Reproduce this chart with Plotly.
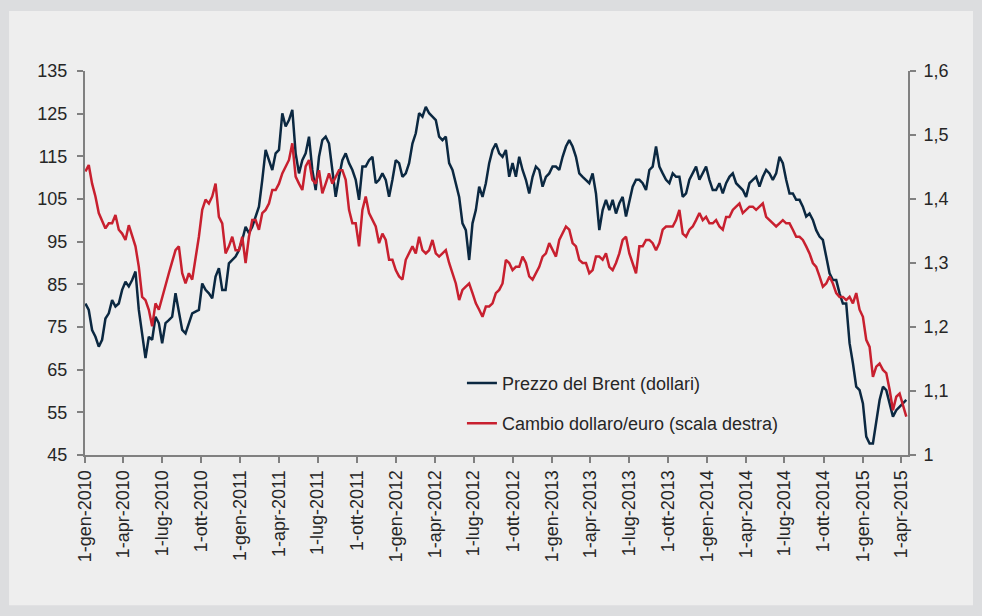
import pandas as pd
import plotly.graph_objects as go

# Brent price (USD) and USD/EUR exchange rate, sampled roughly every 8 days
brent = [
    80.5, 79.0, 74.3, 72.7, 70.4, 72.0, 77.0, 78.2, 81.3, 79.8,
    80.5, 83.7, 85.6, 84.5, 86.0, 88.0, 79.0, 73.5, 67.7, 72.7,
    72.0, 77.4, 75.9, 71.2, 75.9, 76.6, 77.4, 82.9, 79.0, 74.3,
    73.5, 75.9, 78.2, 78.6, 79.0, 85.2, 83.7, 82.9, 81.7, 86.8,
    88.8, 83.7,
    83.7, 89.9, 90.7, 91.5, 93.0, 95.4, 98.5, 97.0, 98.5, 100.9,
    103.2, 109.5, 116.5, 114.1, 111.8, 115.7, 116.5, 125.1, 122.0, 123.5,
    125.9, 115.7, 111.0, 114.1, 115.7, 119.6, 111.8, 107.1, 114.9, 118.8,
    119.6, 118.0, 111.8, 105.5, 110.2, 114.1, 115.7, 113.4, 111.8, 109.5,
    104.8,
    112.6, 112.6, 114.1, 114.9, 108.7, 109.5, 111.0, 109.5, 105.5, 109.5,
    114.1, 113.4, 110.2, 111.0, 113.4, 118.0, 120.4, 125.1, 124.3, 126.6,
    125.1, 124.3, 123.5, 119.6, 118.8, 119.6, 113.4, 111.8, 108.7, 105.5,
    99.3, 97.7, 90.7, 99.3, 102.4, 107.9, 105.5, 108.7, 113.4, 116.5,
    118.0,
    115.7, 114.9, 116.5, 110.2, 113.4, 110.2, 114.9, 111.8, 109.5, 106.3,
    110.2, 112.6, 111.8, 107.9, 110.2, 111.0, 112.6, 112.6, 111.8, 114.9,
    117.3, 118.8, 117.3, 114.9, 111.0, 110.2, 109.5, 108.7, 111.0, 106.3,
    97.7, 102.4, 104.8, 102.4, 104.8, 101.6, 104.0, 105.5, 100.9, 104.8,
    107.9, 109.5,
    109.5, 108.7, 107.1, 111.8, 112.6, 117.3, 112.6, 111.0, 109.5, 108.7,
    111.0, 110.2, 110.2, 105.5, 106.3, 109.5, 111.0, 112.6, 109.5, 111.0,
    112.6, 109.5, 107.1, 107.1, 108.7, 106.3, 108.7, 110.2, 111.0, 108.7,
    107.9, 107.1, 105.5, 108.7, 109.5, 110.2, 107.9, 110.2, 111.8, 111.0,
    109.5,
    111.0, 114.9, 113.4, 109.5, 106.3, 106.3, 104.8, 104.8, 103.2, 100.9,
    101.6, 100.1, 97.7, 96.2, 95.4, 91.5, 87.6, 86.0, 86.0, 82.9,
    80.5, 80.5, 71.2, 66.5, 61.0, 60.2, 57.1, 49.3, 47.7, 47.7,
    52.4, 57.9, 61.0, 60.2, 57.1, 54.0, 55.5, 56.3, 57.1, 57.9,
]

cambio = [
    1.443, 1.453, 1.424, 1.404, 1.378, 1.367, 1.354, 1.362, 1.362, 1.375,
    1.352, 1.346, 1.336, 1.359, 1.341, 1.326, 1.294, 1.247, 1.242, 1.227,
    1.201, 1.237, 1.227, 1.247, 1.268, 1.284, 1.302, 1.320, 1.326, 1.284,
    1.268, 1.284, 1.274, 1.305, 1.341, 1.383, 1.399, 1.393, 1.404, 1.424,
    1.372, 1.362,
    1.315, 1.326, 1.341, 1.320, 1.320, 1.341, 1.300, 1.341, 1.367, 1.367,
    1.352, 1.378, 1.383, 1.393, 1.414, 1.414, 1.424, 1.440, 1.451, 1.461,
    1.487, 1.435, 1.424, 1.414, 1.451, 1.461, 1.430, 1.424, 1.445, 1.409,
    1.424, 1.440, 1.424, 1.435, 1.445, 1.445, 1.430, 1.383, 1.362, 1.362,
    1.326,
    1.383, 1.404, 1.378, 1.367, 1.357, 1.331, 1.346, 1.336, 1.305, 1.305,
    1.289, 1.279, 1.274, 1.305, 1.315, 1.326, 1.315, 1.341, 1.320, 1.315,
    1.320, 1.336, 1.315, 1.310, 1.315, 1.320, 1.300, 1.284, 1.268, 1.242,
    1.258, 1.263, 1.268, 1.253, 1.237, 1.227, 1.216, 1.232, 1.232, 1.237,
    1.253,
    1.258, 1.268, 1.305, 1.300, 1.289, 1.294, 1.294, 1.310, 1.300, 1.279,
    1.274, 1.284, 1.294, 1.310, 1.315, 1.331, 1.320, 1.310, 1.336, 1.346,
    1.357, 1.352, 1.331, 1.326, 1.305, 1.300, 1.300, 1.284, 1.289, 1.310,
    1.310, 1.305, 1.315, 1.294, 1.289, 1.300, 1.315, 1.336, 1.341, 1.315,
    1.300, 1.284,
    1.326, 1.326, 1.336, 1.336, 1.331, 1.320, 1.331, 1.352, 1.357, 1.357,
    1.357, 1.367, 1.383, 1.346, 1.341, 1.352, 1.357, 1.367, 1.378, 1.367,
    1.372, 1.362, 1.362, 1.367, 1.357, 1.352, 1.372, 1.372, 1.383, 1.388,
    1.393, 1.378, 1.383, 1.388, 1.388, 1.383, 1.388, 1.393, 1.372, 1.367,
    1.362,
    1.357, 1.362, 1.367, 1.362, 1.362, 1.352, 1.341, 1.341, 1.336, 1.326,
    1.315, 1.300, 1.294, 1.279, 1.263, 1.268, 1.279, 1.268, 1.253, 1.247,
    1.247, 1.242, 1.247, 1.237, 1.253, 1.227, 1.216, 1.180, 1.169, 1.122,
    1.138, 1.143, 1.133, 1.128, 1.102, 1.070, 1.091, 1.096, 1.076, 1.060,
]

dates_brent = pd.date_range("2010-01-02", "2015-04-13", periods=len(brent))
dates_cambio = pd.date_range("2010-01-02", "2015-04-13", periods=len(cambio))

mesi = {1: "gen", 4: "apr", 7: "lug", 10: "ott"}
tick_dates = pd.date_range("2010-01-01", "2015-04-01", freq="QS")
tick_text = [f"1-{mesi[d.month]}-{d.year}" for d in tick_dates]

left_ticks = [45, 55, 65, 75, 85, 95, 105, 115, 125, 135]
right_ticks = [1.0, 1.1, 1.2, 1.3, 1.4, 1.5, 1.6]
right_text = ["1", "1,1", "1,2", "1,3", "1,4", "1,5", "1,6"]

font = "Liberation Sans, Arial, sans-serif"
axis_col = "#808080"
panel = "#eeeeee"
outer = "#dcdddf"

fig = go.Figure()
fig.add_trace(go.Scatter(
    x=dates_brent, y=brent, mode="lines", name="Prezzo del Brent (dollari)",
    line=dict(color="#0b2841", width=2.5), legendgroup="a",
))
fig.add_trace(go.Scatter(
    x=dates_cambio, y=cambio, mode="lines", name="Cambio dollaro/euro (scala destra)",
    line=dict(color="#c8202f", width=2.5), yaxis="y2", legendgroup="b",
))

fig.update_layout(
    width=982, height=616,
    margin=dict(l=85, r=74, t=71, b=161),
    paper_bgcolor=outer,
    plot_bgcolor=panel,
    font=dict(family=font, size=18, color="#262626"),
    showlegend=True,
    legend=dict(
        x=0.458, y=0.235, xanchor="left", yanchor="top",
        bgcolor="rgba(0,0,0,0)", font=dict(size=18, color="#262626"),
        tracegroupgap=14, traceorder="grouped",
    ),
    xaxis=dict(
        range=["2010-01-01", "2015-04-17"],
        tickvals=tick_dates, ticktext=tick_text, tickangle=-90,
        showgrid=False, zeroline=False,
        showline=True, linecolor=axis_col, linewidth=2,
        ticks="outside", ticklen=6, tickcolor=axis_col, tickwidth=2,
    ),
    yaxis=dict(
        range=[45, 135], tickvals=left_ticks,
        showgrid=False, zeroline=False,
        showline=True, linecolor=axis_col, linewidth=2,
        ticks="outside", ticklen=6, tickcolor=axis_col, tickwidth=2,
        ticklabelstandoff=6,
    ),
    yaxis2=dict(
        range=[1.0, 1.6], tickvals=right_ticks, ticktext=right_text,
        overlaying="y", side="right",
        showgrid=False, zeroline=False,
        showline=True, linecolor=axis_col, linewidth=2,
        ticks="outside", ticklen=6, tickcolor=axis_col, tickwidth=2,
        ticklabelstandoff=4,
    ),
    shapes=[dict(
        type="rect", xref="paper", yref="paper", layer="below",
        x0=-0.0923, x1=1.079, y0=-0.391, y1=1.156,
        fillcolor=panel, line=dict(width=0),
    )],
)

# drop the default page margin so the figure sits at the window's corner
fig.write_html(
    "out.html",
    config={"displayModeBar": False},
    post_script=f"document.body.style.margin='0';document.body.style.background='{outer}';",
)
